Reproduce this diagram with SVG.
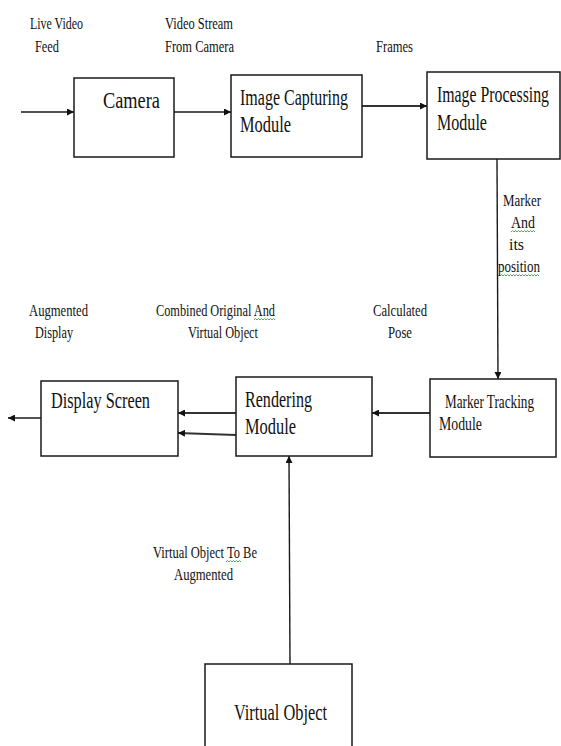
<svg xmlns="http://www.w3.org/2000/svg" width="561" height="746" viewBox="0 0 561 746">
<style>
.box{fill:#fff;stroke:#1a1a1a;stroke-width:1.5}
.ln{stroke:#1a1a1a;stroke-width:1.4;fill:none}
.thk{stroke:#333;stroke-width:2.2;fill:none}
.lbl{font-family:"Liberation Serif","Times New Roman",serif;font-size:17px;fill:#111}
.big{font-family:"Liberation Serif","Times New Roman",serif;font-size:23px;fill:#111}
.sq{stroke:#3aa83a;stroke-width:0.9;fill:none}
</style>
<defs>
<marker id="ah" viewBox="0 0 10 10" refX="10" refY="5" markerWidth="7" markerHeight="7" markerUnits="userSpaceOnUse" orient="auto">
<path d="M0,0 L10,5 L0,10 z" fill="#111"/>
</marker>
</defs>
<rect width="561" height="746" fill="#fff"/>

<g id="connectors">
<line class="ln" x1="21" y1="112" x2="74" y2="112" marker-end="url(#ah)"/>
<line class="ln" x1="174" y1="112" x2="231" y2="112" marker-end="url(#ah)"/>
<line class="thk" x1="362" y1="106" x2="427" y2="106" marker-end="url(#ah)"/>
<line class="ln" x1="497" y1="159" x2="498" y2="379" marker-end="url(#ah)"/>
<line class="thk" x1="430" y1="413" x2="372" y2="413" marker-end="url(#ah)"/>
<line class="thk" x1="236" y1="413" x2="178" y2="413" marker-end="url(#ah)"/>
<line class="thk" x1="236" y1="435" x2="178" y2="433" marker-end="url(#ah)"/>
<line class="ln" x1="41" y1="418" x2="8" y2="418" marker-end="url(#ah)"/>
<line class="ln" x1="290" y1="664" x2="289" y2="456" marker-end="url(#ah)"/>
</g>

<g id="camera">
<rect class="box" x="74" y="78" width="100" height="79"/>
<text class="big" x="103" y="108" textLength="57" lengthAdjust="spacingAndGlyphs">Camera</text>
</g>
<g id="image-capturing">
<rect class="box" x="231" y="75" width="131" height="82"/>
<text class="big" x="240" y="105" textLength="108" lengthAdjust="spacingAndGlyphs">Image Capturing</text>
<text class="big" x="240" y="132" textLength="51" lengthAdjust="spacingAndGlyphs">Module</text>
</g>
<g id="image-processing">
<rect class="box" x="427" y="72" width="133" height="87"/>
<text class="big" x="437" y="102" textLength="112" lengthAdjust="spacingAndGlyphs">Image Processing</text>
<text class="big" x="437" y="130" textLength="50" lengthAdjust="spacingAndGlyphs">Module</text>
</g>
<g id="marker-tracking">
<rect class="box" x="430" y="379" width="126" height="78"/>
<text class="lbl" style="font-size:18px" x="445" y="408" textLength="89" lengthAdjust="spacingAndGlyphs">Marker Tracking</text>
<text class="lbl" style="font-size:18px" x="439" y="430" textLength="43" lengthAdjust="spacingAndGlyphs">Module</text>
</g>
<g id="rendering">
<rect class="box" x="236" y="377" width="136" height="79"/>
<text class="big" x="245" y="407" textLength="67" lengthAdjust="spacingAndGlyphs">Rendering</text>
<text class="big" x="245" y="434" textLength="51" lengthAdjust="spacingAndGlyphs">Module</text>
</g>
<g id="display-screen">
<rect class="box" x="41" y="381" width="137" height="75"/>
<text class="big" x="51" y="408" textLength="99" lengthAdjust="spacingAndGlyphs">Display Screen</text>
</g>
<g id="virtual-object">
<rect class="box" x="205" y="664" width="147" height="90"/>
<text class="big" x="234" y="720" textLength="93" lengthAdjust="spacingAndGlyphs">Virtual Object</text>
</g>

<g id="labels">
<text class="lbl" x="30" y="29" textLength="53" lengthAdjust="spacingAndGlyphs">Live Video</text>
<text class="lbl" x="35" y="52" textLength="24" lengthAdjust="spacingAndGlyphs">Feed</text>
<text class="lbl" x="165" y="29" textLength="68" lengthAdjust="spacingAndGlyphs">Video Stream</text>
<text class="lbl" x="165" y="52" textLength="69" lengthAdjust="spacingAndGlyphs">From Camera</text>
<text class="lbl" x="376" y="52" textLength="37" lengthAdjust="spacingAndGlyphs">Frames</text>
<text class="lbl" x="503" y="206" textLength="38" lengthAdjust="spacingAndGlyphs">Marker</text>
<text class="lbl" x="511" y="228" textLength="24" lengthAdjust="spacingAndGlyphs">And</text>
<text class="lbl" x="509" y="250" textLength="15" lengthAdjust="spacingAndGlyphs">its</text>
<text class="lbl" x="498" y="272" textLength="42" lengthAdjust="spacingAndGlyphs">position</text>
<text class="lbl" x="29" y="316" textLength="59" lengthAdjust="spacingAndGlyphs">Augmented</text>
<text class="lbl" x="35" y="338" textLength="38" lengthAdjust="spacingAndGlyphs">Display</text>
<text class="lbl" x="156" y="316" textLength="119" lengthAdjust="spacingAndGlyphs">Combined Original And</text>
<text class="lbl" x="188" y="338" textLength="70" lengthAdjust="spacingAndGlyphs">Virtual Object</text>
<text class="lbl" x="373" y="316" textLength="54" lengthAdjust="spacingAndGlyphs">Calculated</text>
<text class="lbl" x="388" y="338" textLength="24" lengthAdjust="spacingAndGlyphs">Pose</text>
<text class="lbl" x="153" y="558" textLength="104" lengthAdjust="spacingAndGlyphs">Virtual Object To Be</text>
<text class="lbl" x="174" y="580" textLength="59" lengthAdjust="spacingAndGlyphs">Augmented</text>
<path class="sq" d="M511,232 l1.5,-1.5 1.5,1.5 1.5,-1.5 1.5,1.5 1.5,-1.5 1.5,1.5 1.5,-1.5 1.5,1.5 1.5,-1.5 1.5,1.5 1.5,-1.5 1.5,1.5 1.5,-1.5 1.5,1.5 1.5,-1.5 1.5,1.5"/>
<path class="sq" d="M500,276 l1.5,-1.5 1.5,1.5 1.5,-1.5 1.5,1.5 1.5,-1.5 1.5,1.5 1.5,-1.5 1.5,1.5 1.5,-1.5 1.5,1.5 1.5,-1.5 1.5,1.5 1.5,-1.5 1.5,1.5 1.5,-1.5 1.5,1.5 1.5,-1.5 1.5,1.5 1.5,-1.5 1.5,1.5 1.5,-1.5 1.5,1.5 1.5,-1.5 1.5,1.5 1.5,-1.5 1.5,1.5"/>
<path class="sq" d="M254,320 l1.5,-1.5 1.5,1.5 1.5,-1.5 1.5,1.5 1.5,-1.5 1.5,1.5 1.5,-1.5 1.5,1.5 1.5,-1.5 1.5,1.5 1.5,-1.5 1.5,1.5 1.5,-1.5 1.5,1.5"/>
<path class="sq" d="M226,562 l1.5,-1.5 1.5,1.5 1.5,-1.5 1.5,1.5 1.5,-1.5 1.5,1.5 1.5,-1.5 1.5,1.5 1.5,-1.5 1.5,1.5"/>
</g>
</svg>
